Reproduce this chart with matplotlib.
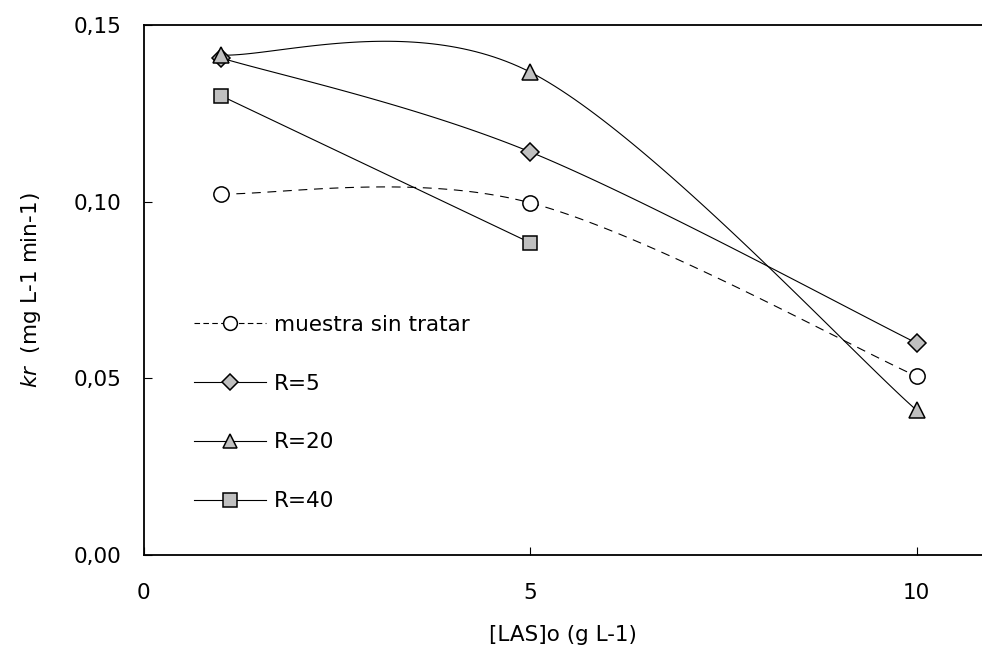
import numpy as np
import matplotlib
matplotlib.use('Agg')
import matplotlib.pyplot as plt
from matplotlib.lines import Line2D

plt.rcParams['font.family'] = ['DejaVu Sans']
plt.rcParams['mathtext.fontset'] = 'dejavusans'

# data
las = [1, 5, 10]
sin_tratar = [0.1022, 0.0997, 0.0506]
r5 = [0.1407, 0.1141, 0.0600]
r20 = [0.1415, 0.1367, 0.0410]
las_r40 = [1, 5]
r40 = [0.1300, 0.0884]

labels = ['muestra sin tratar', 'R=5', 'R=20', 'R=40']


def smooth(xs, ys, n=60):
    # Excel-style smoothed line: cubic Bezier segments, tangents (P[i+1]-P[i-1])/6
    p = np.column_stack([xs, ys]).astype(float)
    if len(p) < 3:
        return p[:, 0], p[:, 1]
    out = []
    t = np.linspace(0, 1, n)[:, None]
    for i in range(len(p) - 1):
        prev = p[max(i - 1, 0)]
        nxt = p[min(i + 2, len(p) - 1)]
        c1 = p[i] + (p[i + 1] - prev) / 6
        c2 = p[i + 1] - (nxt - p[i]) / 6
        seg = ((1 - t) ** 3) * p[i] + 3 * ((1 - t) ** 2) * t * c1 + 3 * (1 - t) * t ** 2 * c2 + t ** 3 * p[i + 1]
        out.append(seg if i == 0 else seg[1:])
    out = np.vstack(out)
    return out[:, 0], out[:, 1]


fig = plt.figure(figsize=(9.82, 6.57), dpi=100)
ax = fig.add_axes([143.5 / 982, 1 - 555 / 657, 1 - 143.5 / 982, (555 - 25) / 657])

grey = '#c0c0c0'
lw = 0.8
ms = 11
mew = 1.1
fs = 15.5

styles = [
    dict(ls=(0, (8, 6)), marker='o', mfc='white', ms=ms),
    dict(ls='-', marker='D', mfc=grey, ms=ms * 0.8),
    dict(ls='-', marker='^', mfc=grey, ms=ms * 1.05),
    dict(ls='-', marker='s', mfc=grey, ms=ms * 0.95),
]
series = [(las, sin_tratar), (las, r5), (las, r20), (las_r40, r40)]

handles = []
for (xs, ys), st, lab in zip(series, styles, labels):
    sx, sy = smooth(xs, ys)
    ax.plot(sx, sy, color='black', lw=lw, ls=st['ls'], zorder=2)
    ax.plot(xs, ys, ls='none', marker=st['marker'], mfc=st['mfc'], mec='black',
            mew=mew, ms=st['ms'], zorder=3)
    handles.append(Line2D([], [], color='black', lw=lw,
                          ls=(0, (5, 3)) if st['ls'] != '-' else '-',
                          marker=st['marker'], mfc=st['mfc'], mec='black',
                          mew=mew, ms=st['ms'] * 0.9, label=lab))

ax.set_xlim(0, (982 - 143.5) / 77.3)
ax.set_ylim(0, 0.15)
ax.set_xticks([0, 5, 10])
ax.set_yticks([0, 0.05, 0.10, 0.15])
ax.set_yticklabels(['0,00', '0,05', '0,10', '0,15'])
ax.tick_params(direction='in', length=6, width=0.8, labelsize=fs, colors='black')
ax.tick_params(axis='x', pad=20)
ax.tick_params(axis='y', pad=16)
ax.spines['right'].set_visible(False)
for s in ['left', 'bottom', 'top']:
    ax.spines[s].set_linewidth(1.3)

ax.set_xlabel('[LAS]o (g L-1)', fontsize=fs, labelpad=16)
ax.set_ylabel(r'$\it{kr}$  (mg L-1 min-1)', fontsize=fs, labelpad=22)

ax.legend(handles=handles, loc='center left', bbox_to_anchor=(0.037, 0.268),
          frameon=False, fontsize=fs, handlelength=3.35, handletextpad=0.37,
          labelspacing=1.8, numpoints=1)

fig.savefig('out.png', dpi=100)
